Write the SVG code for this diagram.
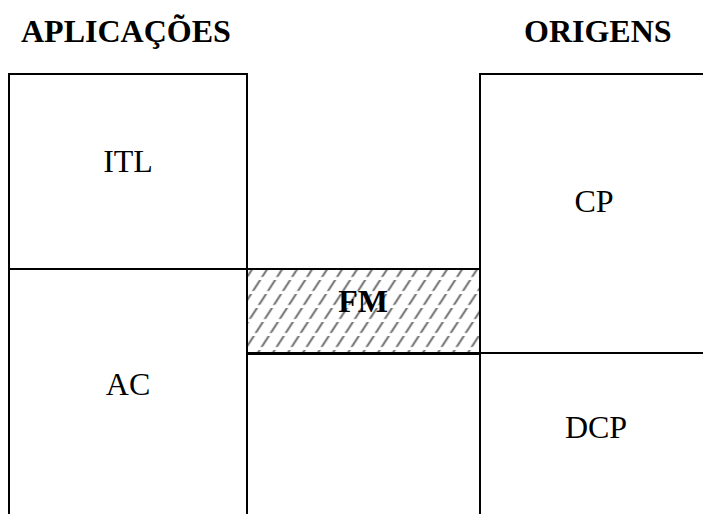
<svg xmlns="http://www.w3.org/2000/svg" width="703" height="514" viewBox="0 0 703 514">
<style>
.ln{stroke:#000;stroke-width:2;fill:none}
.title{font-family:"Liberation Serif",serif;font-weight:bold;font-size:32px;fill:#000}
.lbl{font-family:"Liberation Serif",serif;font-size:32px;fill:#000;text-anchor:middle}
</style>
<defs>
<pattern id="hatch" patternUnits="userSpaceOnUse" width="15" height="28" patternTransform="skewX(-33)">
<line x1="7" y1="0" x2="7" y2="28" stroke="#7a7a7a" stroke-width="2.6" stroke-dasharray="11 3"/>
</pattern>
</defs>
<rect width="703" height="514" fill="#fff"/>
<g id="titles">
<text class="title" x="21" y="42">APLICAÇÕES</text>
<text class="title" x="524" y="42">ORIGENS</text>
</g>
<g id="FM">
<rect x="248" y="270" width="232" height="83" fill="url(#hatch)"/>
<text class="lbl" x="363" y="312" font-weight="bold">FM</text>
</g>
<g id="ITL">
<text class="lbl" x="128" y="172">ITL</text>
</g>
<g id="AC">
<text class="lbl" x="128" y="395">AC</text>
</g>
<g id="CP">
<text class="lbl" x="594" y="212">CP</text>
</g>
<g id="DCP">
<text class="lbl" x="596" y="438">DCP</text>
</g>
<g id="connectors">
<path class="ln" d="M9 514 V74 H247 V514"/>
<path class="ln" d="M9 269 H480"/>
<path class="ln" d="M480 514 V74 H703"/>
<path class="ln" d="M248 353.5 H480" style="stroke-width:3"/>
<path class="ln" d="M480 353 H703"/>
</g>
</svg>
